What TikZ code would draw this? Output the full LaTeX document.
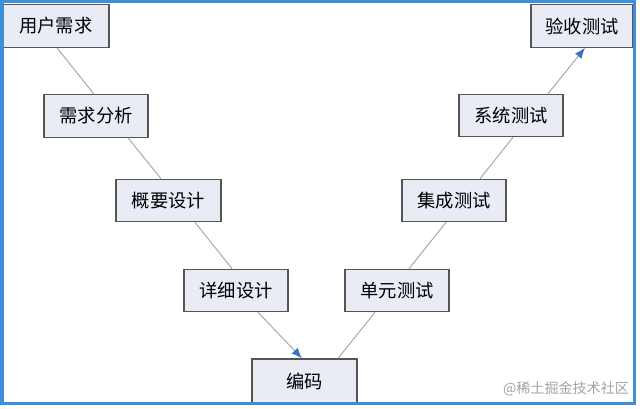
\documentclass[tikz,border=0pt]{standalone}
\usepackage{fontspec}
\newfontfamily\cjk{Noto Sans CJK SC}
\usepackage{tikz}
\usetikzlibrary{calc,arrows.meta}
\definecolor{boxfill}{HTML}{E9EBF5}
\definecolor{boxline}{HTML}{555555}
\definecolor{linkgray}{HTML}{A8A8A8}
\definecolor{tipblue}{HTML}{3A74BE}
\definecolor{frameblue}{HTML}{3D90D8}
\definecolor{markgray}{HTML}{A4A4A4}
\tikzset{
  stage/.style={draw=boxline, fill=boxfill, line width=0.9pt, minimum width=2.6cm,
    minimum height=1.06cm, inner sep=0pt, font=\cjk\fontsize{13pt}{15pt}\selectfont},
  link/.style={draw=linkgray, line width=0.7pt},
  linktip/.style={link, -{Latex[length=7.5pt,width=6pt,color=tipblue]}}
}
\begin{document}
\begin{tikzpicture}[x=0.025cm, y=-0.025cm]
    \useasboundingbox (0,0) rectangle (640,409);
    \fill[white] (0,0) rectangle (640,409);

    % left branch
    \node[stage, minimum width=2.65cm] (YH) at (56,26) {用户需求};
    \node[stage] (XQ) at (96,116) {需求分析};
    \node[stage, minimum width=2.63cm] (GY) at (168.5,200.5) {概要设计};
    \node[stage] (XX) at (236,290.5) {详细设计};
    \node[stage, minimum width=2.63cm, minimum height=1.1cm] (BM) at (304.5,381) {编码};
    % right branch
    \node[stage] (DY) at (397,290.5) {单元测试};
    \node[stage] (JC) at (454,200.5) {集成测试};
    \node[stage] (XT) at (511,115.5) {系统测试};
    \node[stage, minimum width=2.55cm] (YS) at (582,26) {验收测试};

    \draw[link] ($(YH.south)+(1,0)$) -- ($(XQ.north)+(-2,0)$);
    \draw[link] ($(XQ.south)+(32,0)$) -- ($(GY.north)+(-7.5,0)$);
    \draw[link] ($(GY.south)+(26.5,0)$) -- ($(XX.north)+(-4,0)$);
    \draw[linktip] ($(XX.south)+(22,0)$) -- ($(BM.north)+(-2.5,0)$);

    \draw[link] ($(BM.north)+(33.5,0)$) -- ($(DY.south)+(-22,0)$);
    \draw[link] ($(DY.north)+(12,0)$) -- ($(JC.south)+(-8,0)$);
    \draw[link] ($(JC.north)+(26,0)$) -- ($(XT.south)+(2,0)$);
    \draw[linktip] ($(XT.north)+(37,0)$) -- ($(YS.south)+(3,0)$);

    \node[text=markgray, font=\cjk\fontsize{10pt}{12pt}\selectfont] (WM) at (566,389) {@稀土掘金技术社区};
    \draw[frameblue, line width=2.2pt] (2,1.5) rectangle (634.5,403.5);
\end{tikzpicture}
\end{document}
